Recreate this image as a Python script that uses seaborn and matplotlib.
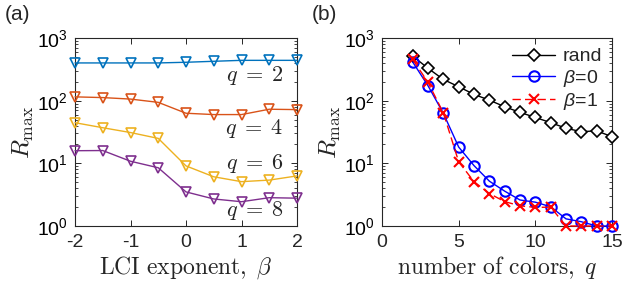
import numpy as np
import pandas as pd
import seaborn as sns
import matplotlib
matplotlib.use("Agg")
import matplotlib.pyplot as plt
from matplotlib.ticker import LogLocator, FixedLocator

# ---------------- data ----------------
beta = [-2, -1.5, -1, -0.5, 0, 0.5, 1, 1.5, 2]
r_q2 = [400, 400, 400, 400, 410, 425, 440, 440, 440]
r_q4 = [115, 112, 106, 94, 63, 60, 60, 73, 72]
r_q6 = [44.5, 37, 31, 25, 9.1, 6.1, 5.1, 5.4, 6.3]
r_q8 = [15.9, 16, 10.8, 8.5, 3.5, 2.7, 2.44, 2.83, 2.78]
q_labels_a = [r"$q\;=\;2$", r"$q\;=\;4$", r"$q\;=\;6$", r"$q\;=\;8$"]

q_vals = [2, 3, 4, 5, 6, 7, 8, 9, 10, 11, 12, 13, 14, 15]
r_rand = [515, 329, 218, 167, 126, 102, 80, 65, 54, 44.6, 36.3, 32, 33, 26.6]
r_beta0 = [415, 173, 63, 18.2, 9.2, 5.2, 3.6, 2.6, 2.4, 2.03, 1.3, 1.17, 1.0, 1.0]
r_beta1 = [455, 196, 64, 10.6, 5.1, 3.3, 2.45, 2.1, 1.98, 2.0, 1.0, 1.0, 1.0, 1.0]
legend_b = ["rand", r"$\beta$=0", r"$\beta$=1"]

# ---------------- style ----------------
sns.set_style("ticks")
plt.rcParams["font.family"] = ["Liberation Sans", "DejaVu Sans"]
plt.rcParams["mathtext.fontset"] = "custom"
plt.rcParams["mathtext.rm"] = "Liberation Sans"
plt.rcParams["mathtext.it"] = "Liberation Sans:italic"
plt.rcParams["axes.edgecolor"] = "#262626"
plt.rcParams["axes.linewidth"] = 0.8

fig = plt.figure(figsize=(6.23, 2.87), dpi=100)
axa = fig.add_axes([75 / 623, 1 - 226 / 287, 222 / 623, 188 / 287])
axb = fig.add_axes([382 / 623, 1 - 226 / 287, 230 / 623, 188 / 287])

colors_a = ["#0072BD", "#D95319", "#EDB120", "#7E2F8E"]
for ys, c in zip([r_q2, r_q4, r_q6, r_q8], colors_a):
    sns.lineplot(x=beta, y=ys, ax=axa, color=c, lw=1.0, marker="v", markersize=6.5,
                 markerfacecolor="none", markeredgecolor=c, markeredgewidth=1.2,
                 clip_on=False, zorder=3)

ypos = [0.80, 0.52, 0.33, 0.08]
for lab, yy in zip(q_labels_a, ypos):
    axa.text(0.94, yy, lab, transform=axa.transAxes, ha="right", va="center",
             fontsize=16, math_fontfamily="cm")

# panel b
sns.lineplot(x=q_vals, y=r_rand, ax=axb, color="black", lw=1.0, marker="D", markersize=6.5,
             markerfacecolor="white", markeredgecolor="black", markeredgewidth=1.2,
             label=legend_b[0], clip_on=False, zorder=3)
sns.lineplot(x=q_vals, y=r_beta0, ax=axb, color="blue", lw=1.0, marker="o", markersize=7.5,
             markerfacecolor="none", markeredgecolor="blue", markeredgewidth=1.5,
             label=legend_b[1], clip_on=False, zorder=4)
sns.lineplot(x=q_vals, y=r_beta1, ax=axb, color="red", lw=1.0, marker="x", markersize=6.5,
             markeredgecolor="red", markeredgewidth=1.5, linestyle=(0, (6, 3)),
             label=legend_b[2], clip_on=False, zorder=5)

leg = axb.legend(loc="upper right", frameon=False, fontsize=14, handlelength=2.2,
                 handletextpad=0.4, labelspacing=0.12, borderaxespad=0.1)

for ax in (axa, axb):
    ax.set_yscale("log")
    ax.set_ylim(1, 1000)
    ax.yaxis.set_major_locator(LogLocator(base=10, numticks=10))
    ax.yaxis.set_minor_locator(LogLocator(base=10, subs=np.arange(2, 10), numticks=10))
    ax.tick_params(which="both", direction="in", top=True, right=True, labelsize=14,
                   colors="#262626")
    ax.tick_params(which="major", length=4, width=0.7)
    ax.tick_params(axis="x", which="major", pad=6)
    ax.tick_params(axis="y", which="major", pad=5)
    ax.tick_params(which="minor", length=2.5, width=0.6)
    ax.set_ylabel(r"$R_{\max}$", fontsize=18, math_fontfamily="cm", labelpad=1)
    for lbl in ax.get_yticklabels():
        lbl.set_color("black")

axa.set_xlim(-2, 2)
axa.xaxis.set_major_locator(FixedLocator([-2, -1, 0, 1, 2]))
axa.set_xticklabels(["-2", "-1", "0", "1", "2"])
axa.set_xlabel(r"$\mathrm{LCI\ exponent,}\;\beta$", fontsize=17, math_fontfamily="cm", labelpad=2)

axb.set_xlim(0, 15)
axb.xaxis.set_major_locator(FixedLocator([0, 5, 10, 15]))
axb.set_xlabel(r"$\mathrm{number\ of\ colors,}\;q$", fontsize=17, math_fontfamily="cm", labelpad=2)

fig.text(5 / 623, 1 - 15 / 287, "(a)", fontsize=15, va="center", ha="left")
fig.text(312 / 623, 1 - 15 / 287, "(b)", fontsize=15, va="center", ha="left")

fig.savefig("out.png", dpi=100)
